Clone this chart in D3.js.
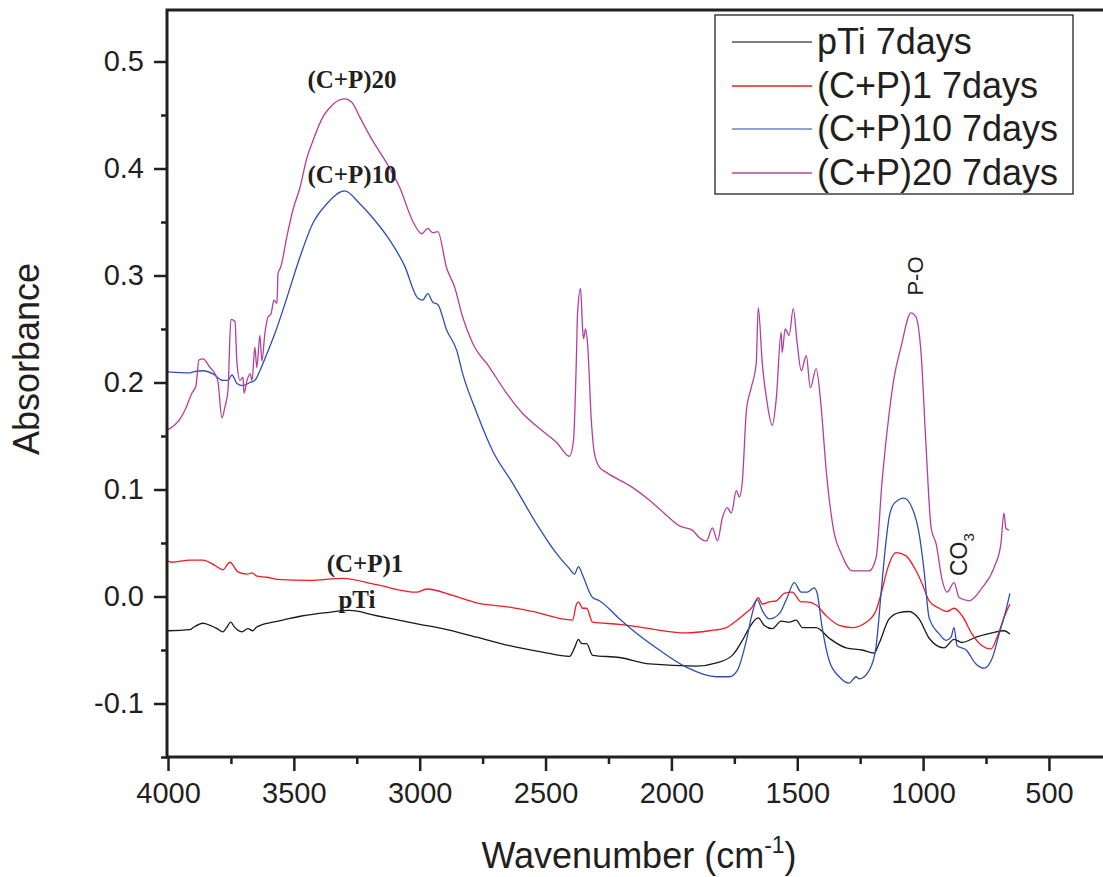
<!DOCTYPE html>
<html>
<head>
<meta charset="utf-8">
<script src="https://cdn.jsdelivr.net/npm/d3@7"></script>
<style>
  body { margin: 0; background: #fff; }
  svg { display: block; }
</style>
</head>
<body>
<div id="chart"></div>
<script>
// FTIR spectra after 7 days: [wavenumber (cm-1), absorbance]
var pTi7 = [[4000,-0.032],[3913,-0.031],[3900,-0.029],[3861,-0.025],[3833,-0.027],[3805,-0.030],[3782,-0.033],[3770,-0.030],[3750,-0.024],[3738,-0.028],[3706,-0.033],[3683,-0.030],[3663,-0.032],[3650,-0.029],[3623,-0.026],[3583,-0.024],[3544,-0.022],[3464,-0.018],[3369,-0.015],[3278,-0.013],[3171,-0.018],[3000,-0.026],[2909,-0.030],[2774,-0.038],[2643,-0.046],[2512,-0.052],[2405,-0.056],[2385,-0.048],[2369,-0.040],[2361,-0.043],[2353,-0.044],[2337,-0.044],[2313,-0.055],[2206,-0.057],[2087,-0.063],[1901,-0.065],[1821,-0.062],[1758,-0.055],[1718,-0.041],[1690,-0.029],[1655,-0.020],[1631,-0.027],[1599,-0.030],[1564,-0.023],[1532,-0.024],[1504,-0.022],[1480,-0.029],[1425,-0.029],[1373,-0.039],[1306,-0.048],[1242,-0.050],[1195,-0.053],[1175,-0.044],[1135,-0.021],[1095,-0.015],[1056,-0.014],[1016,-0.021],[976,-0.039],[917,-0.048],[877,-0.040],[845,-0.043],[790,-0.038],[726,-0.034],[679,-0.032],[655,-0.035]];

var cp1_7 = [[4000,0.033],[3985,0.032],[3913,0.034],[3861,0.034],[3813,0.029],[3782,0.025],[3754,0.032],[3722,0.023],[3686,0.021],[3666,0.022],[3647,0.019],[3607,0.018],[3567,0.016],[3437,0.015],[3306,0.017],[3171,0.011],[3012,0.004],[2972,0.007],[2869,0.001],[2774,-0.006],[2643,-0.010],[2552,-0.014],[2393,-0.022],[2377,-0.007],[2369,-0.005],[2353,-0.011],[2337,-0.011],[2313,-0.024],[2206,-0.026],[2115,-0.029],[1941,-0.034],[1849,-0.032],[1782,-0.029],[1738,-0.022],[1702,-0.015],[1679,-0.010],[1655,-0.001],[1639,-0.007],[1611,-0.005],[1583,-0.004],[1552,0.003],[1520,0.004],[1484,-0.005],[1460,-0.005],[1425,-0.008],[1385,-0.018],[1333,-0.027],[1282,-0.029],[1226,-0.024],[1187,-0.013],[1163,0.006],[1140,0.027],[1107,0.041],[1068,0.038],[1028,0.024],[1004,0.012],[976,-0.004],[936,-0.011],[905,-0.014],[877,-0.011],[845,-0.018],[806,-0.035],[766,-0.046],[730,-0.049],[706,-0.038],[679,-0.020],[655,-0.007]];

var cp10_7 = [[4000,0.210],[3913,0.209],[3900,0.210],[3861,0.211],[3821,0.208],[3782,0.202],[3762,0.202],[3746,0.207],[3726,0.199],[3702,0.197],[3674,0.200],[3655,0.202],[3635,0.211],[3607,0.227],[3575,0.246],[3528,0.279],[3476,0.317],[3424,0.349],[3369,0.367],[3298,0.379],[3238,0.367],[3187,0.354],[3119,0.333],[3060,0.309],[3008,0.279],[2988,0.277],[2968,0.283],[2948,0.275],[2928,0.273],[2893,0.249],[2853,0.230],[2829,0.208],[2774,0.172],[2710,0.136],[2631,0.106],[2536,0.068],[2456,0.040],[2405,0.026],[2385,0.021],[2369,0.028],[2353,0.020],[2313,-0.001],[2286,-0.004],[2206,-0.021],[2167,-0.029],[2048,-0.050],[1941,-0.066],[1821,-0.075],[1770,-0.075],[1738,-0.069],[1702,-0.041],[1679,-0.016],[1659,-0.003],[1639,-0.013],[1611,-0.021],[1571,-0.016],[1540,-0.001],[1512,0.013],[1484,0.004],[1460,0.004],[1433,0.008],[1421,0.003],[1401,-0.029],[1373,-0.060],[1333,-0.075],[1294,-0.081],[1266,-0.075],[1254,-0.077],[1214,-0.069],[1187,-0.047],[1167,0.003],[1155,0.034],[1135,0.074],[1115,0.087],[1076,0.092],[1044,0.083],[1016,0.059],[996,0.024],[976,-0.020],[936,-0.035],[909,-0.041],[889,-0.038],[877,-0.029],[865,-0.046],[829,-0.050],[790,-0.063],[758,-0.067],[726,-0.058],[698,-0.035],[671,-0.013],[655,0.003]];

var cp20_7 = [[4000,0.156],[3952,0.166],[3933,0.174],[3905,0.190],[3889,0.197],[3877,0.221],[3861,0.222],[3833,0.214],[3813,0.208],[3801,0.200],[3786,0.167],[3774,0.177],[3762,0.192],[3750,0.259],[3734,0.257],[3726,0.218],[3714,0.202],[3702,0.205],[3698,0.190],[3686,0.202],[3674,0.208],[3666,0.202],[3655,0.233],[3647,0.214],[3635,0.244],[3627,0.220],[3615,0.246],[3603,0.261],[3591,0.264],[3579,0.277],[3567,0.274],[3563,0.302],[3552,0.308],[3528,0.336],[3504,0.361],[3476,0.382],[3448,0.410],[3424,0.426],[3385,0.448],[3357,0.457],[3298,0.465],[3270,0.462],[3238,0.448],[3187,0.426],[3131,0.405],[3079,0.382],[3028,0.351],[2992,0.339],[2968,0.344],[2948,0.340],[2928,0.341],[2893,0.307],[2861,0.289],[2829,0.261],[2790,0.237],[2722,0.214],[2655,0.190],[2591,0.171],[2524,0.157],[2456,0.144],[2405,0.131],[2389,0.146],[2377,0.227],[2373,0.264],[2361,0.288],[2353,0.251],[2349,0.241],[2341,0.250],[2333,0.236],[2318,0.164],[2306,0.134],[2286,0.121],[2258,0.116],[2155,0.102],[2087,0.090],[2020,0.076],[1968,0.066],[1917,0.062],[1889,0.055],[1861,0.052],[1837,0.064],[1817,0.052],[1798,0.073],[1778,0.083],[1762,0.078],[1742,0.099],[1730,0.093],[1718,0.108],[1702,0.174],[1683,0.195],[1663,0.218],[1655,0.270],[1639,0.218],[1619,0.180],[1599,0.160],[1583,0.186],[1564,0.247],[1560,0.228],[1548,0.250],[1532,0.244],[1516,0.269],[1500,0.236],[1484,0.211],[1464,0.225],[1448,0.195],[1425,0.213],[1405,0.177],[1385,0.118],[1353,0.059],[1325,0.040],[1282,0.024],[1214,0.024],[1187,0.036],[1163,0.108],[1135,0.171],[1115,0.205],[1088,0.233],[1048,0.265],[1028,0.261],[1008,0.227],[988,0.139],[968,0.064],[948,0.049],[924,0.015],[905,0.004],[877,0.013],[857,-0.001],[817,-0.004],[766,0.008],[718,0.027],[691,0.049],[679,0.078],[671,0.064],[659,0.062]];

var seriesNames = ["pTi 7days", "(C+P)1 7days", "(C+P)10 7days", "(C+P)20 7days"];
var seriesData = [pTi7, cp1_7, cp10_7, cp20_7];
var seriesColors = ["#1a1a1a", "#ee1c24", "#2e4fae", "#b23f9e"];
var legendColors = ["#555555", "#ee1c24", "#6d83c4", "#c0409e"];

var xTicks = [4000, 3500, 3000, 2500, 2000, 1500, 1000, 500];
var yTicks = [-0.1, 0.0, 0.1, 0.2, 0.3, 0.4, 0.5];

function init() {
    var w = 1103, h = 877;
    var pl = 167, pt = 8, pr = 1104, pb = 757;
    var ink = "#231f20";
    var sans = "'Liberation Sans', Arial, sans-serif";

    var xScale = d3.scaleLinear().domain([4000, 280]).range([168, 168 + 3720 * 0.2517]);
    var yScale = d3.scaleLinear().domain([-0.15, 0.55]).range([pb, pt]);

    var svg = d3.select("#chart").append("svg")
        .attr("width", w).attr("height", h)
        .style("font-family", sans);

    svg.append("rect").attr("width", w).attr("height", h).attr("fill", "#fff");

    svg.append("clipPath").attr("id", "plot")
       .append("rect").attr("x", pl).attr("y", pt).attr("width", pr - pl).attr("height", pb - pt);

    // curves
    var line = d3.line()
        .x(function(d) { return xScale(d[0]); })
        .y(function(d) { return yScale(d[1]); })
        .curve(d3.curveMonotoneX);

    svg.append("g").attr("clip-path", "url(#plot)")
       .selectAll("path")
       .data(seriesData)
       .enter()
       .append("path")
       .attr("d", line)
       .attr("fill", "none")
       .attr("stroke", function(d, i) { return seriesColors[i]; })
       .attr("stroke-width", 1.3)
       .attr("stroke-linejoin", "round");

    function styleTicks(g) {
        g.select(".domain").remove();
        g.selectAll("line").attr("stroke-width", 2.5).attr("stroke", ink);
        g.selectAll("text").attr("font-size", 29).attr("fill", ink).style("font-family", sans);
    }

    // minor ticks
    svg.append("g")
       .attr("transform", "translate(0," + pb + ")")
       .call(d3.axisBottom(xScale).tickValues(d3.range(3750, 300, -500)).tickSize(7).tickFormat(""))
       .call(styleTicks);

    svg.append("g")
       .attr("transform", "translate(" + pl + ",0)")
       .call(d3.axisLeft(yScale).tickValues([-0.15, -0.05, 0.05, 0.15, 0.25, 0.35, 0.45]).tickSize(6).tickFormat(""))
       .call(styleTicks);

    // major ticks + labels
    svg.append("g")
       .attr("transform", "translate(0," + pb + ")")
       .call(d3.axisBottom(xScale).tickValues(xTicks).tickSize(14).tickPadding(11).tickFormat(d3.format("d")))
       .call(styleTicks);

    svg.append("g")
       .attr("transform", "translate(" + pl + ",0)")
       .call(d3.axisLeft(yScale).tickValues(yTicks).tickSize(13).tickPadding(10)
             .tickFormat(function(d) { return d.toFixed(1).replace("\u2212", "-"); }))
       .call(styleTicks);

    // frame (right side runs off the picture)
    svg.append("rect")
       .attr("x", pl).attr("y", pt + 2)
       .attr("width", 1120 - pl).attr("height", pb - pt - 2)
       .attr("fill", "none").attr("stroke", ink).attr("stroke-width", 3);

    // axis titles
    svg.append("text")
       .attr("transform", "translate(39,359) rotate(-90)")
       .attr("text-anchor", "middle")
       .attr("font-size", 36)
       .attr("fill", ink)
       .text("Absorbance");

    var xt = svg.append("text")
       .attr("x", 639).attr("y", 868)
       .attr("text-anchor", "middle")
       .attr("font-size", 36)
       .attr("fill", ink);
    xt.append("tspan").text("Wavenumber (cm");
    xt.append("tspan").attr("font-size", 23).attr("dy", -15).text("-1");
    xt.append("tspan").attr("dy", 15).text(")");

    // legend
    var lg = svg.append("g");
    lg.append("rect")
      .attr("x", 715).attr("y", 15).attr("width", 358).attr("height", 179)
      .attr("fill", "#fff").attr("stroke", ink).attr("stroke-width", 1.3);
    var rowsY = [42, 86, 129, 173];
    seriesNames.forEach(function(name, i) {
        lg.append("line")
          .attr("x1", 732).attr("x2", 812)
          .attr("y1", rowsY[i]).attr("y2", rowsY[i])
          .attr("stroke", legendColors[i]).attr("stroke-width", 1.5);
        lg.append("text")
          .attr("x", 817).attr("y", rowsY[i] + 12)
          .attr("font-size", 36)
          .attr("fill", ink)
          .text(name);
    });

    // peak labels
    var serif = "'Liberation Serif', 'Times New Roman', serif";
    var notes = [
        { t: "(C+P)20", x: 352, y: 88 },
        { t: "(C+P)10", x: 352, y: 183 },
        { t: "(C+P)1", x: 365, y: 572 },
        { t: "pTi", x: 357, y: 608 }
    ];
    svg.selectAll("text.note")
       .data(notes)
       .enter()
       .append("text")
       .attr("class", "note")
       .attr("x", function(d) { return d.x; })
       .attr("y", function(d) { return d.y; })
       .attr("text-anchor", "middle")
       .attr("font-family", serif)
       .attr("font-weight", "bold")
       .attr("font-size", 25)
       .attr("fill", ink)
       .text(function(d) { return d.t; });

    svg.append("text")
       .attr("transform", "translate(923,276) rotate(-90)")
       .attr("text-anchor", "middle")
       .attr("font-size", 22)
       .attr("fill", ink)
       .text("P-O");

    var co = svg.append("text")
       .attr("transform", "translate(967,576) rotate(-90)")
       .attr("font-size", 23)
       .attr("fill", ink);
    co.append("tspan").text("CO");
    co.append("tspan").attr("font-size", 15).attr("dy", 7).text("3");
}

window.onload = init;
</script>
</body>
</html>
